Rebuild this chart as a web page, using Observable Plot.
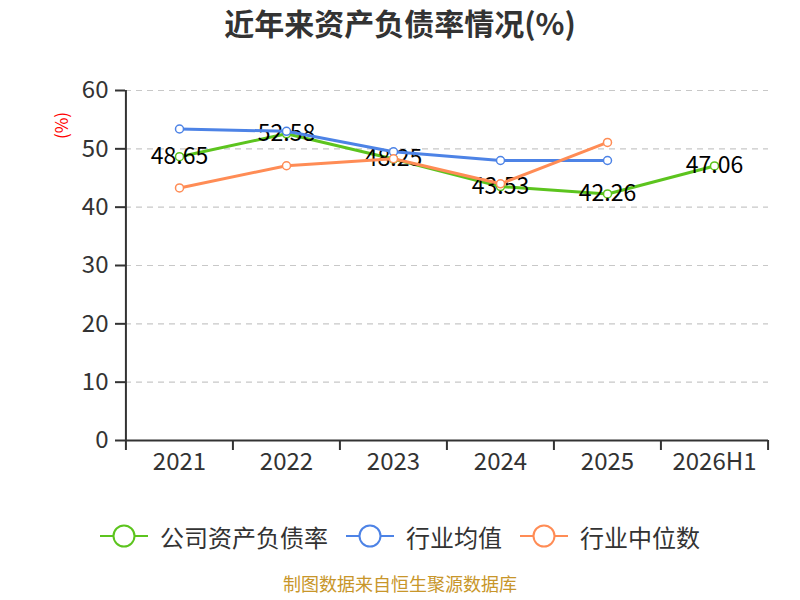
<!DOCTYPE html>
<html>
<head>
<meta charset="utf-8">
<script src="https://cdn.jsdelivr.net/npm/d3@7"></script>
<script src="https://cdn.jsdelivr.net/npm/@observablehq/plot@0.6"></script>
<style>
  html, body { margin: 0; padding: 0; background: #fff; }
  body { width: 800px; height: 600px; overflow: hidden; font-family: "Noto Sans CJK SC", "Noto Sans", sans-serif; }
  #title { height: 45px; line-height: 45px; text-align: center; font-size: 30px; font-weight: bold; color: #333; }
  #legend { display: flex; justify-content: center; align-items: center; height: 36px; margin-top: 8px; font-size: 24px; color: #333; }
  .item { display: flex; align-items: center; margin: 0 9px; }
  .item svg { margin-right: 12px; }
  #caption { text-align: center; font-size: 18px; line-height: 22px; color: #c8962a; margin-top: 18px; }
</style>
</head>
<body>
<div id="title">近年来资产负债率情况(%)</div>
<div id="chart"></div>
<div id="legend"></div>
<div id="caption">制图数据来自恒生聚源数据库</div>
<script>
const categories = ["2021", "2022", "2023", "2024", "2025", "2026H1"];
const companyRatio = [48.65, 52.58, 48.25, 43.53, 42.26, 47.06];
const industryMean = [53.4, 53.0, 49.5, 48.0, 48.0];
const industryMedian = [43.3, 47.1, 48.3, 44.0, 51.1];
const yTicks = [0, 10, 20, 30, 40, 50, 60];

const seriesNames = ["公司资产负债率", "行业均值", "行业中位数"];
const colors = ["#5cc41e", "#4d83e6", "#ff8c55"];

const toRows = vals => vals.map((v, i) => ({ cat: categories[i], value: v }));
const company = toRows(companyRatio);
const mean = toRows(industryMean);
const median = toRows(industryMedian);

const W = 800, H = 465, mL = 125, mR = 32, mT = 45, mB = 70;
const step = (W - mL - mR) / categories.length;
const font = "Noto Sans CJK SC, Noto Sans, sans-serif";

function series(rows, color) {
  return [
    Plot.line(rows, { x: "cat", y: "value", stroke: color, strokeWidth: 3 }),
    Plot.dot(rows, { x: "cat", y: "value", r: 4, fill: "#fff", stroke: color, strokeWidth: 1.5 })
  ];
}

const chart = Plot.plot({
  width: W,
  height: H,
  marginLeft: mL,
  marginRight: mR,
  marginTop: mT,
  marginBottom: mB,
  style: { fontFamily: font, background: "#fff", overflow: "visible" },
  x: { type: "point", domain: categories, padding: 0.5, label: null },
  y: { domain: [0, 60], label: null },
  marks: [
    Plot.gridY(yTicks.filter(d => d > 0), { stroke: "#c8c8c8", strokeOpacity: 1, strokeDasharray: "6,5", strokeWidth: 1.2 }),
    Plot.axisY({ ticks: yTicks, tickSize: 10, tickPadding: 7, fontSize: 24, color: "#333", stroke: "#333", strokeWidth: 2, label: null }),
    Plot.axisX({ ticks: categories, tickSize: 0, tickPadding: 12, fontSize: 24, color: "#333", label: null }),
    Plot.axisX({ ticks: categories, tickSize: 10, tickFormat: () => "", dx: -step / 2, stroke: "#333", strokeWidth: 2, label: null }),
    Plot.axisX({ ticks: [categories[categories.length - 1]], tickSize: 10, tickFormat: () => "", dx: step / 2, stroke: "#333", strokeWidth: 2, label: null }),
    Plot.ruleY([0], { stroke: "#333", strokeWidth: 2 }),
    Plot.ruleX([categories[0]], { dx: -step / 2, stroke: "#333", strokeWidth: 2 }),
    Plot.text(["(%)"], { frameAnchor: "top-left", textAnchor: "middle", lineAnchor: "middle", dx: -63, dy: 35, rotate: -90, fill: "red", fontSize: 17 }),
    ...series(company, colors[0]),
    Plot.text(company, { x: "cat", y: "value", text: d => d.value.toFixed(2), fontSize: 23, fill: "#000" }),
    ...series(mean, colors[1]),
    ...series(median, colors[2])
  ]
});
document.getElementById("chart").appendChild(chart);

const legend = document.getElementById("legend");
seriesNames.forEach((name, i) => {
  const item = document.createElement("div");
  item.className = "item";
  item.innerHTML = `<svg width="48" height="26"><line x1="0" y1="13" x2="48" y2="13" stroke="${colors[i]}" stroke-width="2"/><circle cx="24" cy="13" r="10.5" fill="#fff" stroke="${colors[i]}" stroke-width="2"/></svg><span>${name}</span>`;
  legend.appendChild(item);
});
</script>
</body>
</html>
